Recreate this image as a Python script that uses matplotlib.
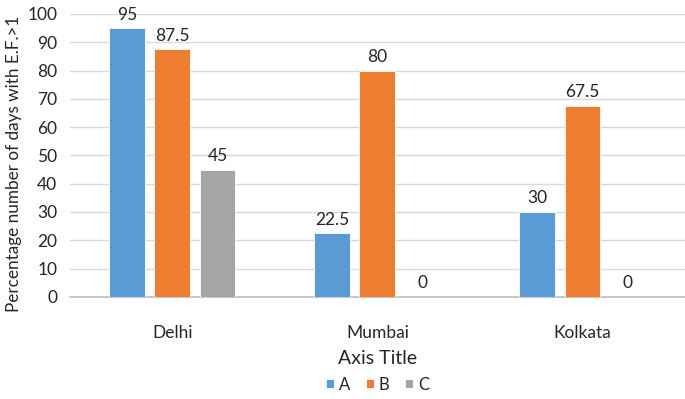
import matplotlib
matplotlib.use('Agg')
import matplotlib.pyplot as plt
import numpy as np

cities = ['Delhi', 'Mumbai', 'Kolkata']
series_names = ['A', 'B', 'C']
values_a = [95, 22.5, 30]
values_b = [87.5, 80, 67.5]
values_c = [45, 0, 0]

COLORS = ['#5B9BD5', '#ED7D31', '#A5A5A5']
TEXT = '#262626'

plt.rcParams['font.family'] = ['Lato', 'DejaVu Sans']

fig = plt.figure(figsize=(6.85, 3.99), dpi=100)
ax = fig.add_axes([0.102, 0.256, 0.898, 0.709])

x = np.arange(len(cities))
width = 0.175
offsets = [-0.22, 0, 0.22]
all_values = [values_a, values_b, values_c]

for vals, off, color, name in zip(all_values, offsets, COLORS, series_names):
    bars = ax.bar(x + off, vals, width=width, color=color, edgecolor='white',
                  linewidth=0.6, label=name, zorder=3)
    for b, v in zip(bars, vals):
        ax.annotate(f'{v:g}', (b.get_x() + b.get_width() / 2, v), xytext=(0, 4),
                    textcoords='offset points', ha='center', va='bottom',
                    fontsize=12.5, color=TEXT)

ax.set_xlim(-0.5, 2.5)
ax.set_ylim(0, 100)
ax.set_yticks(range(0, 101, 10))
ax.set_xticks(x)
ax.set_xticklabels(cities)
ax.tick_params(axis='both', length=0, labelsize=12.5, colors=TEXT)
ax.tick_params(axis='x', pad=20)
ax.tick_params(axis='y', pad=9)
ax.yaxis.grid(True, color='#D9D9D9', linewidth=1, zorder=0)
ax.set_axisbelow(True)
for side in ['top', 'right', 'left']:
    ax.spines[side].set_visible(False)
ax.spines['bottom'].set_color('#BFBFBF')
ax.spines['bottom'].set_linewidth(1.2)

ax.set_xlabel('Axis Title', fontsize=14, color=TEXT, labelpad=7)
ax.set_ylabel('Percentage number of days with E.F.>1', fontsize=12.3, color=TEXT)
ax.yaxis.set_label_coords(-0.078, 0.47)

ax.legend(loc='center', bbox_to_anchor=(0.5, -0.31), ncol=3, frameon=False,
          fontsize=12, handlelength=0.5, handleheight=0.5, handletextpad=0.3,
          columnspacing=0.9, labelcolor=TEXT)

fig.savefig('out.png', dpi=100)
